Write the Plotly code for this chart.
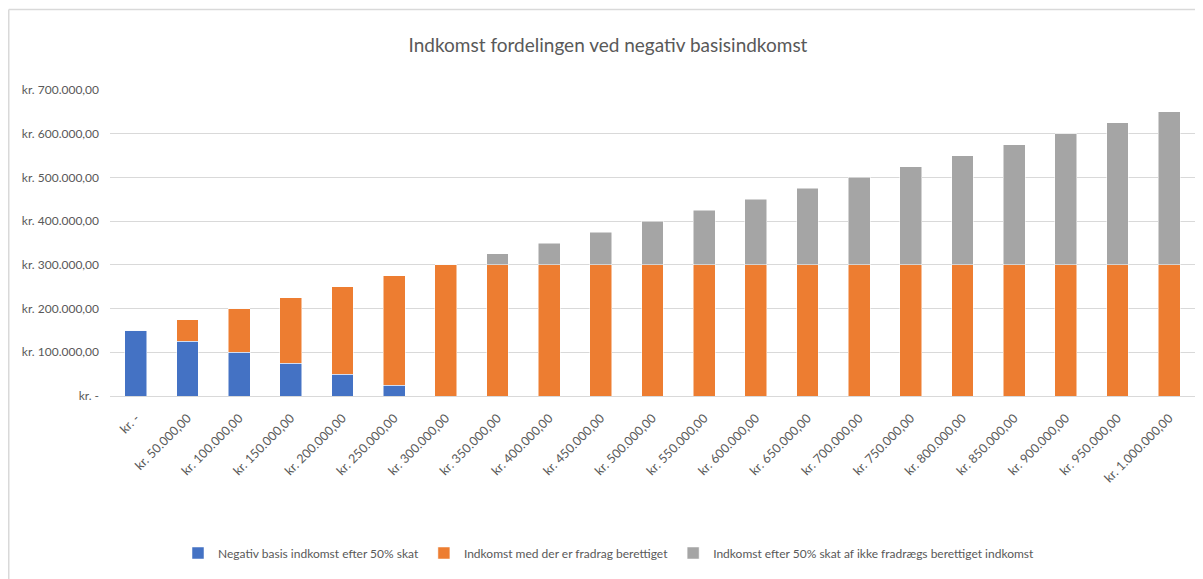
import plotly.graph_objects as go

categories = ["kr. -", "kr. 50.000,00", "kr. 100.000,00", "kr. 150.000,00", "kr. 200.000,00",
              "kr. 250.000,00", "kr. 300.000,00", "kr. 350.000,00", "kr. 400.000,00",
              "kr. 450.000,00", "kr. 500.000,00", "kr. 550.000,00", "kr. 600.000,00",
              "kr. 650.000,00", "kr. 700.000,00", "kr. 750.000,00", "kr. 800.000,00",
              "kr. 850.000,00", "kr. 900.000,00", "kr. 950.000,00", "kr. 1.000.000,00"]
negativ_basis = [150000, 125000, 100000, 75000, 50000, 25000, 0, 0, 0, 0, 0, 0, 0, 0, 0, 0, 0, 0, 0, 0, 0]
fradrag = [0, 50000, 100000, 150000, 200000, 250000, 300000, 300000, 300000, 300000, 300000,
           300000, 300000, 300000, 300000, 300000, 300000, 300000, 300000, 300000, 300000]
efter_skat = [0, 0, 0, 0, 0, 0, 0, 25000, 50000, 75000, 100000, 125000, 150000, 175000, 200000,
              225000, 250000, 275000, 300000, 325000, 350000]
y_tickvals = [0, 100000, 200000, 300000, 400000, 500000, 600000, 700000]
y_ticktext = ["kr. -", "kr. 100.000,00", "kr. 200.000,00", "kr. 300.000,00", "kr. 400.000,00",
              "kr. 500.000,00", "kr. 600.000,00", "kr. 700.000,00"]
names = ["Negativ basis indkomst efter 50% skat", "Indkomst med der er fradrag berettiget",
         "Indkomst efter 50% skat af ikke fradrægs berettiget indkomst"]

FONT = "Lato, sans-serif"
TXT = "#595959"
W, H = 1203, 579
L, R, T, B = 102, 16, 82, 191
PW, PH = W - L - R, H - T - B

fig = go.Figure()
for vals, name, col in [(negativ_basis, names[0], "#4472C4"),
                        (fradrag, names[1], "#ED7D31"),
                        (efter_skat, names[2], "#A5A5A5")]:
    fig.add_trace(go.Bar(x=categories, y=vals, name=name,
                         marker=dict(color=col, line=dict(color="white", width=0.5))))

fig.update_layout(
    barmode="stack", bargap=0.58,
    width=W, height=H,
    paper_bgcolor="white", plot_bgcolor="white",
    margin=dict(l=L, r=R, t=T, b=B),
    font=dict(family=FONT, color=TXT, size=12),
    title=dict(text="Indkomst fordelingen ved negativ basisindkomst", x=(608 - 8) / W, xanchor="center",
               y=1 - 37 / H, yanchor="middle", font=dict(family=FONT, size=19, color=TXT)),
    legend=dict(orientation="h", x=(609 - 8 - L) / PW, xanchor="center", y=-(545 - (H - B)) / PH,
                yanchor="middle", font=dict(size=12, color=TXT), itemwidth=30,
                traceorder="normal"),
    showlegend=True,
)
fig.update_yaxes(range=[0, 700000], tickvals=y_tickvals, ticktext=y_ticktext,
                 showgrid=True, gridcolor="#D9D9D9", gridwidth=1, zeroline=False,
                 showline=False, ticks="", ticklabelstandoff=10, tickfont=dict(size=12, color=TXT))
fig.update_xaxes(tickangle=-45, showline=True, linecolor="#D9D9D9", linewidth=1, ticks="",
                 ticklabelstandoff=9, tickfont=dict(size=12.5, color=TXT))

bx = -(L - 0.75) / PW
by = 1 + (T - 1.5) / PH
fig.add_shape(type="line", xref="paper", yref="paper", x0=bx, x1=1.2,
              y0=by, y1=by, line=dict(color="#D9D9D9", width=1.5))
fig.add_shape(type="line", xref="paper", yref="paper", x0=bx, x1=bx,
              y0=by, y1=-1, line=dict(color="#D9D9D9", width=1.5))

fig.write_html("out.html")
